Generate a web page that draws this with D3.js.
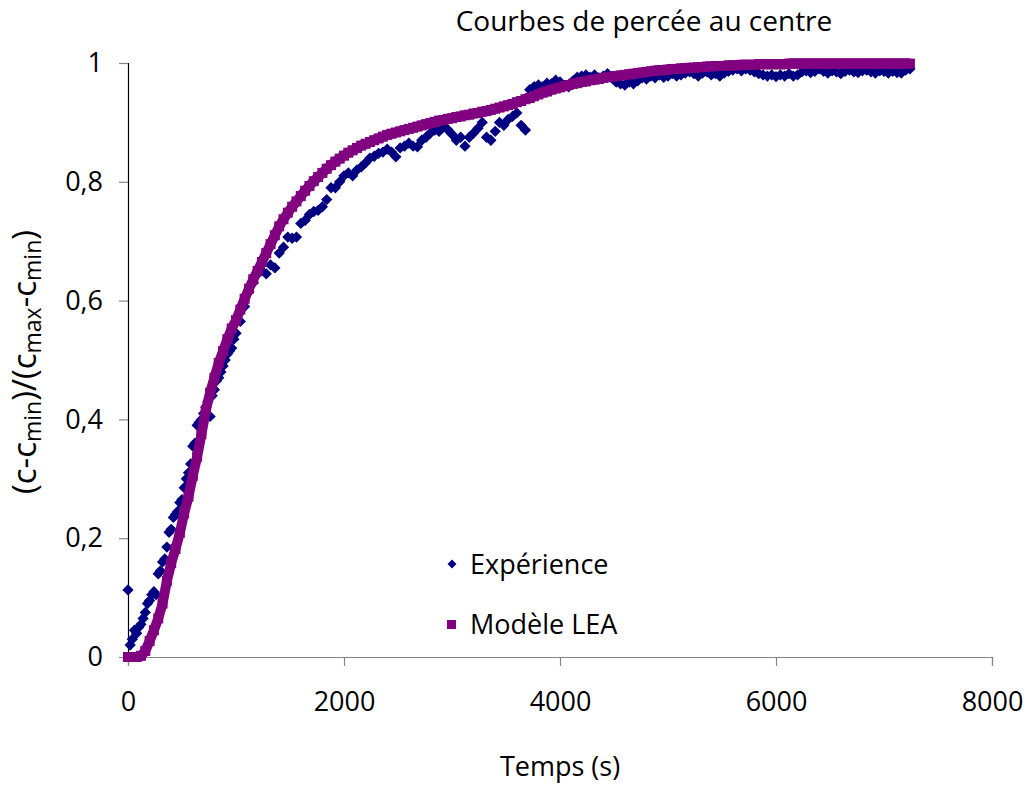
<!DOCTYPE html>
<html>
<head>
<meta charset="utf-8">
<script src="https://cdn.jsdelivr.net/npm/d3@7/dist/d3.min.js"></script>
<style>
  html, body { margin: 0; padding: 0; background: #fff; }
  text { font-family: "Open Sans", "Liberation Sans", sans-serif; fill: #000; }
</style>
</head>
<body>
<svg id="chart" width="1031" height="787"></svg>
<script>
// ---- data ----
const chartTitle = "Courbes de percée au centre";
const xTitle = "Temps (s)";
const seriesNames = ["Expérience", "Modèle LEA"];
const xTicks = [0, 2000, 4000, 6000, 8000];
const yTicks = [0, 0.2, 0.4, 0.6, 0.8, 1];
const yTickLabels = ["0", "0,2", "0,4", "0,6", "0,8", "1"];

const expTimes = [
  0,20,40,60,80,100,120,140,160,180,200,220,240,260,280,300,320,340,360,380,
  400,420,440,460,480,500,520,540,560,580,600,620,640,660,680,700,720,740,760,780,
  800,820,840,860,880,900,920,940,960,980,1000,
  1040,1080,1120,1160,1200,1240,1280,1320,1360,1400,1440,1480,1520,1560,
  1600,1640,1680,1720,1760,1800,1840,1880,1920,1960,2000,2040,2080,2120,2160,2200,2240,2280,2320,2360,
  2400,2440,2480,2520,2560,2600,2640,2680,2720,2760,2800,2840,2880,2920,2960,3000,3040,3080,3120,3160,
  3200,3240,3280,3320,3360,3400,3440,3480,3520,3560,3600,3640,3680,3720,3760,3800,3840,3880,3920,3960,
  4000,4040,4080,4120,4160,4200,4240,4280,4320,4360,4400,4440,4480,4520,4560,4600,4640,4680,4720,4760,
  4800,4840,4880,4920,4960,5000,5040,5080,5120,5160,5200,5240,5280,5320,5360,5400,5440,5480,5520,5560,
  5600,5640,5680,5720,5760,5800,5840,5880,5920,5960,6000,6040,6080,6120,6160,6200,6240,6280,6320,6360,
  6400,6440,6480,6520,6560,6600,6640,6680,6720,6760,6800,6840,6880,6920,6960,7000,7040,7080,7120,7160,
  7200,7240
];

const experience = [
  0.113,0.020,0.030,0.045,0.040,0.050,0.055,0.065,0.075,0.090,0.095,0.105,0.110,0.105,0.140,0.145,0.160,0.165,0.185,0.210,
  0.215,0.235,0.240,0.245,0.260,0.265,0.285,0.300,0.310,0.325,0.355,0.360,0.390,0.395,0.400,0.410,0.420,0.430,0.405,0.440,
  0.450,0.465,0.470,0.480,0.490,0.500,0.510,0.515,0.520,0.535,0.545,
  0.565,0.590,0.615,0.630,0.645,0.650,0.645,0.660,0.655,0.680,0.690,0.707,0.705,0.707,
  0.730,0.735,0.745,0.750,0.752,0.758,0.770,0.790,0.790,0.800,0.810,0.815,0.810,0.820,0.825,0.832,0.840,0.843,0.848,0.850,
  0.855,0.850,0.842,0.857,0.860,0.865,0.860,0.859,0.870,0.875,0.882,0.887,0.885,0.892,0.888,0.880,0.870,0.875,0.860,0.875,
  0.882,0.890,0.900,0.875,0.870,0.885,0.900,0.895,0.905,0.910,0.916,0.895,0.887,0.955,0.960,0.963,0.960,0.966,0.965,0.971,
  0.968,0.962,0.960,0.970,0.976,0.978,0.980,0.976,0.980,0.975,0.978,0.982,0.975,0.968,0.965,0.963,0.968,0.965,0.970,0.975,
  0.973,0.978,0.975,0.980,0.976,0.978,0.982,0.978,0.980,0.983,0.985,0.982,0.978,0.983,0.985,0.980,0.982,0.978,0.983,0.986,
  0.988,0.990,0.987,0.990,0.988,0.985,0.982,0.980,0.978,0.980,0.977,0.980,0.978,0.982,0.978,0.980,0.985,0.987,0.984,0.986,
  0.990,0.986,0.983,0.987,0.985,0.982,0.986,0.988,0.985,0.984,0.987,0.988,0.985,0.983,0.987,0.986,0.983,0.986,0.984,0.983,
  0.988,0.990
];

const modTimes = [
  0,40,80,120,160,200,240,280,320,360,400,440,480,520,560,600,640,680,720,760,
  800,840,880,920,960,1000,1040,1080,1120,1160,1200,1240,1280,1320,1360,1400,1440,1480,1520,1560,
  1600,1640,1680,1720,1760,1800,1840,1880,1920,1960,2000,2040,2080,2120,2160,2200,2240,2280,2320,2360,
  2400,2440,2480,2520,2560,2600,2640,2680,2720,2760,2800,2840,2880,2920,2960,3000,3040,3080,3120,3160,
  3200,3240,3280,3320,3360,3400,3440,3480,3520,3560,3600,3640,3680,3720,3760,3800,3840,3880,3920,3960,
  4000,4040,4080,4120,4160,4200,4240,4280,4320,4360,4400,4440,4480,4520,4560,4600,4640,4680,4720,4760,
  4800,4840,4880,4920,4960,5000,5040,5080,5120,5160,5200,5240,5280,5320,5360,5400,5440,5480,5520,5560,
  5600,5640,5680,5720,5760,5800,5840,5880,5920,5960,6000,6040,6080,6120,6160,6200,6240,6280,6320,6360,
  6400,6440,6480,6520,6560,6600,6640,6680,6720,6760,6800,6840,6880,6920,6960,7000,7040,7080,7120,7160,
  7200,7240
];

const modele = [
  0.000,0.000,0.000,0.002,0.010,0.027,0.045,0.065,0.090,0.128,0.158,0.182,0.209,0.242,0.270,0.305,0.337,0.375,0.415,0.445,
  0.470,0.495,0.515,0.535,0.553,0.567,0.585,0.603,0.620,0.636,0.650,0.665,0.680,0.695,0.710,0.725,0.737,0.748,0.758,0.767,
  0.776,0.785,0.793,0.801,0.808,0.815,0.822,0.828,0.834,0.839,0.844,0.849,0.853,0.857,0.861,0.864,0.867,0.870,0.873,0.876,
  0.879,0.881,0.883,0.885,0.887,0.889,0.891,0.893,0.895,0.897,0.899,0.901,0.903,0.904,0.906,0.907,0.909,0.910,0.912,0.913,
  0.915,0.916,0.918,0.919,0.921,0.923,0.925,0.927,0.929,0.931,0.934,0.936,0.939,0.941,0.944,0.947,0.950,0.952,0.955,0.957,
  0.959,0.961,0.963,0.965,0.966,0.968,0.969,0.971,0.972,0.973,0.975,0.976,0.977,0.978,0.979,0.980,0.981,0.982,0.983,0.984,
  0.985,0.986,0.987,0.988,0.988,0.989,0.990,0.990,0.991,0.991,0.992,0.992,0.993,0.993,0.994,0.994,0.995,0.995,0.995,0.996,
  0.996,0.996,0.997,0.997,0.997,0.997,0.998,0.998,0.998,0.998,0.998,0.998,0.998,0.999,0.999,0.999,0.999,0.999,0.999,0.999,
  0.999,0.999,0.999,0.999,0.999,0.999,0.999,0.999,0.999,0.999,0.999,0.999,0.999,0.999,0.999,0.999,0.999,0.999,0.999,0.999,
  0.999,0.999
];

// ---- layout ----
const svg = d3.select("#chart");
const x = d3.scaleLinear().domain([0, 8000]).range([128, 992]);
const y = d3.scaleLinear().domain([0, 1]).range([657, 63]);

const navy = "#000080", purple = "#800080";
const fs = 27;

// title
svg.append("text").attr("x", 644).attr("y", 31)
  .attr("text-anchor", "middle").style("font-size", "28px").text(chartTitle);

// x axis
const xAxis = svg.append("g").attr("transform", "translate(0,657)")
  .call(d3.axisBottom(x).tickValues(xTicks).tickSize(9).tickFormat(d3.format("d")));
xAxis.select(".domain").attr("stroke", "#868686").attr("stroke-width", 1.2);
xAxis.selectAll(".tick line").attr("stroke", "#868686").attr("stroke-width", 1.2);
xAxis.selectAll(".tick text").style("font-size", fs + "px").attr("dy", "1.55em").attr("fill", "#000");

// y axis
const yAxis = svg.append("g").attr("transform", "translate(128,0)")
  .call(d3.axisLeft(y).tickValues(yTicks).tickSize(9).tickPadding(16)
    .tickFormat((d, i) => yTickLabels[i]));
yAxis.select(".domain").attr("stroke", "#000").attr("stroke-width", 1.2);
yAxis.selectAll(".tick line").attr("stroke", "#868686").attr("stroke-width", 1.2);
yAxis.selectAll(".tick text").style("font-size", fs + "px").attr("fill", "#000");

// axis titles
svg.append("text").attr("x", 560).attr("y", 776)
  .attr("text-anchor", "middle").style("font-size", fs + "px").text(xTitle);

const yl = svg.append("text").attr("transform", "translate(36,362) rotate(-90)")
  .attr("text-anchor", "middle").style("font-size", "33px");
const parts = [["(c-c", false], ["min", true], [")/(c", false], ["max", true], ["-c", false], ["min", true], [")", false]];
parts.forEach(([t, sub]) => {
  const ts = yl.append("tspan").text(t);
  if (sub) ts.style("font-size", "23px").attr("baseline-shift", "-22%");
});

// data
const expData = expTimes.map((t, i) => ({ t, v: experience[i] }));
const modData = modTimes.map((t, i) => ({ t, v: modele[i] }));

// experiment diamonds
svg.append("g").selectAll("path").data(expData).enter().append("path")
  .attr("d", d3.symbol().type(d3.symbolSquare).size(64))
  .attr("transform", d => `translate(${x(d.t)},${y(d.v)}) rotate(45)`)
  .attr("fill", navy);

// model: dense square markers (band through the markers)
svg.append("path").datum(modData)
  .attr("d", d3.line().x(d => x(d.t)).y(d => y(d.v)))
  .attr("fill", "none").attr("stroke", purple).attr("stroke-width", 10)
  .attr("stroke-linejoin", "round");
svg.append("g").selectAll("rect").data(modData).enter().append("rect")
  .attr("x", d => x(d.t) - 5).attr("y", d => y(d.v) - 5)
  .attr("width", 10).attr("height", 10).attr("fill", purple);

// legend
const lg = svg.append("g");
lg.append("path").attr("d", d3.symbol().type(d3.symbolSquare).size(40))
  .attr("transform", "translate(452,564) rotate(45)").attr("fill", navy);
lg.append("text").attr("x", 470).attr("y", 574).style("font-size", fs + "px").text(seriesNames[0]);
lg.append("rect").attr("x", 447).attr("y", 620).attr("width", 9).attr("height", 9).attr("fill", purple);
lg.append("text").attr("x", 470).attr("y", 634).style("font-size", fs + "px").text(seriesNames[1]);
</script>
</body>
</html>
